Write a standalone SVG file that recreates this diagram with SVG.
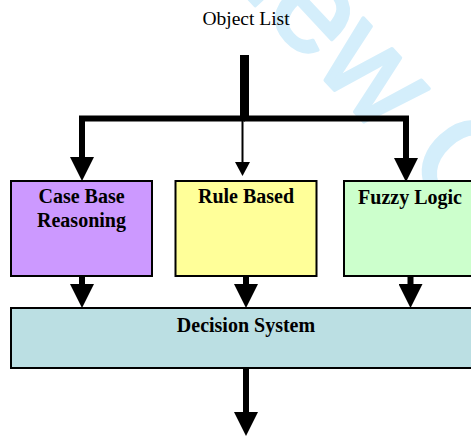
<svg xmlns="http://www.w3.org/2000/svg" width="471" height="436" viewBox="0 0 471 436">
  <style>
    .box { stroke: #000; stroke-width: 2; }
    .label { font-family: "Liberation Serif", "Times New Roman", serif; font-weight: bold; font-size: 20px; fill: #000; text-anchor: middle; }
    .title { font-family: "Liberation Serif", "Times New Roman", serif; font-size: 19.5px; fill: #000; text-anchor: middle; }
    .wire { fill: none; stroke: #000; stroke-width: 6; stroke-linejoin: miter; }
    .mark { font-family: "Liberation Sans", Arial, sans-serif; font-size: 133px; fill: #d4eefb; stroke: #d4eefb; stroke-width: 3.5; stroke-linejoin: round; }
  </style>
  <defs>
    <marker id="head" markerUnits="userSpaceOnUse" viewBox="0 0 24 24" markerWidth="24" markerHeight="24" refX="0" refY="12" orient="auto">
      <path d="M0,0 L24,12 L0,24 Z" fill="#000"/>
    </marker>
    <marker id="head-small" markerUnits="userSpaceOnUse" viewBox="0 0 14 15" markerWidth="14" markerHeight="15" refX="0" refY="7.5" orient="auto">
      <path d="M0,0 L14,7.5 L0,15 Z" fill="#000"/>
    </marker>
  </defs>

  <!-- background watermark -->
  <text class="mark" transform="translate(-298,-588) rotate(47)" x="0" y="0">For Peer Review Only</text>

  <g id="object-list">
    <text class="title" x="246" y="25">Object List</text>
  </g>

  <g id="connectors">
    <!-- trunk from the object list -->
    <line x1="244.5" y1="55" x2="244.5" y2="121" stroke="#000" stroke-width="9"/>
    <!-- split to the three reasoning methods -->
    <path class="wire" d="M245,118.5 H82 V157" marker-end="url(#head)"/>
    <path class="wire" d="M244,118.5 H406 V158" marker-end="url(#head)"/>
    <path d="M242.5,118 V162" fill="none" stroke="#000" stroke-width="2" marker-end="url(#head-small)"/>
    <!-- methods into the decision system -->
    <path class="wire" d="M82,276 V284" marker-end="url(#head)"/>
    <path class="wire" d="M246,276 V284" marker-end="url(#head)"/>
    <path class="wire" d="M410.5,276 V284" marker-end="url(#head)"/>
    <!-- output -->
    <path class="wire" d="M246,368 V412" marker-end="url(#head)"/>
  </g>

  <g id="case-base-reasoning">
    <rect class="box" x="11" y="181" width="141" height="95" fill="#cc99ff"/>
    <text class="label" x="81.5" y="203">Case Base</text>
    <text class="label" x="81.5" y="226.5">Reasoning</text>
  </g>

  <g id="rule-based">
    <rect class="box" x="175.5" y="181" width="141" height="95" fill="#ffff99"/>
    <text class="label" x="246" y="203">Rule Based</text>
  </g>

  <g id="fuzzy-logic">
    <rect class="box" x="344" y="181" width="133" height="95" fill="#ccffcc"/>
    <text class="label" x="410" y="204">Fuzzy Logic</text>
  </g>

  <g id="decision-system">
    <rect class="box" x="11" y="308" width="466" height="60" fill="#bbdfe3"/>
    <text class="label" x="246" y="331.5">Decision System</text>
  </g>
</svg>
